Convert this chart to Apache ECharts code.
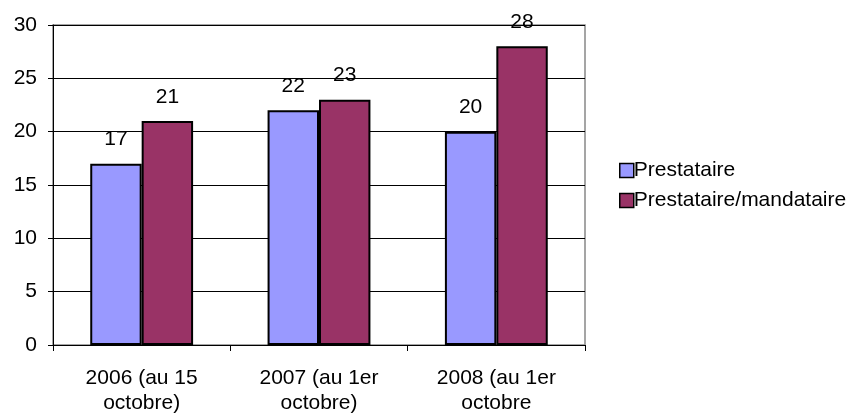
<!DOCTYPE html>
<html>
<head>
<meta charset="utf-8">
<script src="https://cdn.jsdelivr.net/npm/echarts@6/dist/echarts.min.js"></script>
<style>
  html, body { margin: 0; padding: 0; background: #fff; }
  #chart { width: 856px; height: 413px; }
</style>
</head>
<body>
<div id="chart"></div>
<script>
// Categories (periods) and series values
var categories = ['2006 (au 15\noctobre)', '2007 (au 1er\noctobre)', '2008 (au 1er\noctobre'];
var prestataire = [17, 22, 20];
var prestataireMandataire = [21, 23, 28];
var seriesNames = ['Prestataire', 'Prestataire/mandataire'];

var FONT = 'Liberation Sans, Arial, sans-serif';
var FS = 21;
var chart = echarts.init(document.getElementById('chart'));

function barSeries(name, data, color) {
  return {
    name: name,
    type: 'bar',
    data: data,
    barGap: '0%',
    barCategoryGap: '42%',
    itemStyle: { color: color, borderColor: '#000', borderWidth: 2 },
    label: {
      show: true,
      position: 'top',
      distance: 13,
      color: '#000',
      fontFamily: FONT,
      fontSize: FS,
      lineHeight: 22
    }
  };
}

chart.setOption({
  animation: false,
  backgroundColor: '#fff',
  grid: {
    left: 53, right: 271, top: 25, bottom: 68,
    outerBoundsMode: 'none',
    show: true, borderColor: '#888', borderWidth: 1.5, backgroundColor: 'transparent'
  },
  legend: {
    orient: 'vertical',
    left: 614,
    top: 155,
    itemWidth: 14,
    itemHeight: 14,
    itemGap: 9,
    icon: 'rect',
    textStyle: { fontFamily: FONT, fontSize: FS, lineHeight: 21, color: '#000', padding: [0, 0, 0, -5] },
    itemStyle: { borderColor: '#000', borderWidth: 1.5 },
    data: seriesNames
  },
  xAxis: {
    type: 'category',
    data: categories,
    axisLine: { lineStyle: { color: '#000', width: 1 } },
    axisTick: { show: true, length: 6, alignWithLabel: false, lineStyle: { color: '#000' } },
    axisLabel: { fontFamily: FONT, fontSize: FS, color: '#000', lineHeight: 25, margin: 21 }
  },
  yAxis: {
    type: 'value',
    min: 0,
    max: 30,
    interval: 5,
    axisLine: { show: true, lineStyle: { color: '#000', width: 1 } },
    axisTick: { show: true, length: 5, lineStyle: { color: '#000' } },
    axisLabel: { fontFamily: FONT, fontSize: FS, color: '#000', margin: 16 },
    splitLine: { show: true, lineStyle: { color: '#000', width: 1 } }
  },
  series: [
    barSeries(seriesNames[0], prestataire, '#9999ff'),
    barSeries(seriesNames[1], prestataireMandataire, '#993366')
  ]
});
</script>
</body>
</html>
